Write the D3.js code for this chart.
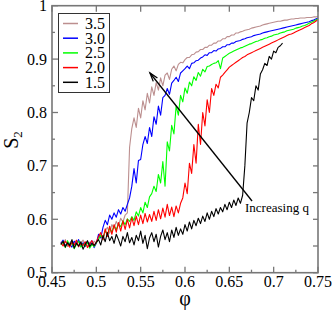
<!DOCTYPE html>
<html><head><meta charset="utf-8">
<script src="https://cdn.jsdelivr.net/npm/d3@7"></script>
</head><body style="margin:0">
<script>
// phi sample grid (step 0.0025 from 0.46)
const phi = d3.range(117).map(i => +(0.46 + 0.0025 * i).toFixed(4));
const seriesNames = ["3.5", "3.0", "2.5", "2.0", "1.5"];
const seriesColors = ["#bc8f8f", "#0000ff", "#00ff00", "#ff0000", "#000000"];
const s35 = [0.558,0.552,0.562,0.549,0.556,0.560,0.551,0.557,0.548,0.555,0.561,0.553,0.550,0.557,0.552,0.559,0.556,
 0.566,0.572,0.561,0.578,0.585,0.574,0.590,0.583,0.596,0.588,0.602,0.595,0.608,0.612,
 0.735,0.770,0.790,0.772,0.808,0.790,0.822,0.805,0.836,0.818,0.848,0.832,0.856,0.842,0.865,0.850,0.870,0.874,0.862,0.881,0.887,0.878,0.890,0.894,0.893,
 0.899,0.903,0.903,0.908,0.909,0.913,0.914,0.918,0.918,0.922,0.922,0.926,0.926,0.930,0.930,0.934,0.934,0.938,0.938,0.942,0.942,0.945,0.945,0.949,
 0.949,0.951,0.952,0.954,0.955,0.956,0.958,0.959,0.960,0.961,0.962,0.964,0.965,0.966,0.967,0.968,0.969,0.970,0.971,0.971,0.972,0.973,0.973,0.974,
 0.975,0.975,0.976,0.976,0.977,0.977,0.977,0.978,0.978,0.978,0.979,0.979,0.980];
const s30 = [0.555,0.561,0.550,0.557,0.553,0.548,0.559,0.554,0.562,0.551,0.556,0.549,0.558,0.553,0.560,0.547,0.555,
 0.572,0.565,0.585,0.598,0.590,0.608,0.600,0.612,0.604,0.618,0.610,0.622,0.615,0.628,0.640,
 0.662,0.695,0.668,0.710,0.712,0.740,0.755,0.742,0.772,0.755,0.792,0.778,0.812,0.795,0.828,0.832,0.845,0.834,0.855,0.860,0.866,0.858,0.874,0.878,
 0.882,0.887,0.882,0.892,0.893,0.897,0.898,0.902,0.904,0.908,0.907,0.912,0.912,0.916,0.915,0.919,0.920,0.923,0.923,0.927,0.927,0.930,0.930,0.933,
 0.934,0.935,0.937,0.938,0.940,0.941,0.942,0.944,0.945,0.946,0.947,0.949,0.950,0.951,0.952,0.953,0.954,0.955,0.956,0.957,0.958,0.959,0.960,0.961,
 0.962,0.963,0.964,0.965,0.966,0.967,0.968,0.969,0.970,0.972,0.973,0.975,0.977];
const s25 = [0.552,0.558,0.547,0.560,0.551,0.556,0.545,0.553,0.559,0.548,0.554,0.550,0.557,0.546,0.553,0.549,0.556,
 0.562,0.570,0.565,0.578,0.572,0.583,0.576,0.588,0.581,0.592,0.586,0.597,0.590,0.601,0.596,
 0.605,0.598,0.614,0.606,0.622,0.612,0.632,0.622,0.642,0.648,0.662,0.652,0.684,0.668,0.708,0.662,0.745,0.728,0.776,0.760,0.812,0.795,0.832,0.820,
 0.846,0.836,0.857,0.850,0.867,0.860,0.875,0.868,0.881,0.876,0.886,0.887,0.890,0.892,0.893,0.897,0.882,0.902,0.905,0.908,0.911,0.913,0.915,0.917,
 0.919,0.921,0.922,0.924,0.926,0.928,0.929,0.931,0.933,0.934,0.936,0.937,0.939,0.940,0.942,0.943,0.945,0.946,0.947,0.949,0.950,0.951,0.953,0.954,
 0.955,0.956,0.958,0.959,0.960,0.962,0.963,0.965,0.967,0.969,0.971,0.973,0.975];
const s20 = [0.556,0.550,0.559,0.553,0.548,0.557,0.552,0.561,0.549,0.555,0.551,0.558,0.547,0.554,0.560,0.551,0.557,
 0.568,0.575,0.562,0.582,0.568,0.587,0.572,0.590,0.576,0.594,0.578,0.597,0.581,0.600,0.584,0.603,0.588,0.606,0.590,0.608,0.592,0.611,0.595,
 0.609,0.596,0.615,0.598,0.618,0.601,0.621,0.604,0.628,0.607,0.623,0.605,
 0.625,0.612,0.630,0.640,0.668,0.648,0.705,0.686,0.740,0.705,0.778,0.740,0.800,0.775,0.824,0.800,0.845,0.832,0.853,0.846,0.866,0.870,0.875,0.880,
 0.885,0.888,0.891,0.894,0.897,0.900,0.903,0.905,0.908,0.910,0.912,0.914,0.916,0.918,0.920,0.922,0.924,0.926,0.928,0.930,0.932,0.934,0.936,0.938,
 0.940,0.942,0.944,0.946,0.947,0.949,0.951,0.953,0.955,0.957,0.959,0.961,0.963,0.966,0.968,0.971,0.974];
const s15 = [0.553,0.559,0.548,0.556,0.551,0.562,0.546,0.555,0.550,0.558,0.544,0.553,0.560,0.549,0.555,0.551,0.557,
 0.562,0.552,0.570,0.558,0.575,0.560,0.568,0.555,0.572,0.562,0.550,0.568,0.558,0.575,0.556,0.566,0.552,0.570,0.560,0.578,0.555,0.570,0.545,
 0.565,0.575,0.558,0.572,0.548,0.568,0.580,0.562,0.575,0.558,0.580,0.566,0.585,0.570,0.582,0.572,0.590,0.578,0.595,0.582,0.598,0.588,0.602,0.592,
 0.606,0.596,0.612,0.600,0.615,0.605,0.620,0.610,0.622,0.614,0.628,0.618,0.632,0.622,0.636,0.626,0.640,0.630,0.645,
 0.700,0.780,0.800,0.828,0.822,0.850,0.842,0.872,0.880,0.892,0.888,0.905,0.900,0.915,0.912,0.922,0.925,0.930];
const seriesValues = [s35, s30, s25, s20, s15];
const xTicks = [0.45,0.5,0.55,0.6,0.65,0.7,0.75];
const yTicks = [0.5,0.6,0.7,0.8,0.9,1];
const arrowFrom = [0.6756, 0.6343], arrowTo = [0.5605, 0.874];

const W = 332, H = 312, L = 52, R = 318, T = 5.7, B = 272.7;
const x = d3.scaleLinear().domain([0.45, 0.75]).range([L, R]);
const y = d3.scaleLinear().domain([0.5, 1]).range([B, T]);
const svg = d3.select("body").append("svg").attr("width", W).attr("height", H).style("display","block");
const axisColor = "#777";

const g = svg.append("g");
const line = d3.line().x(d => x(d[0])).y(d => y(d[1]));
seriesValues.forEach((vals, k) => {
  const pts = vals.map((v, i) => [phi[i], v]);
  g.append("path").attr("d", line(pts)).attr("fill","none")
   .attr("stroke", seriesColors[k]).attr("stroke-width", 1.1).attr("stroke-linejoin","round");
});

// axes (ticks inward)
const minorX = d3.range(0.475, 0.75, 0.05);
const minorY = d3.range(0.55, 1, 0.1);
const axG = svg.append("g").attr("stroke", axisColor).attr("stroke-width", 1.3);
xTicks.forEach(t => {
  axG.append("line").attr("x1",x(t)).attr("x2",x(t)).attr("y1",B).attr("y2",B-6);
  axG.append("line").attr("x1",x(t)).attr("x2",x(t)).attr("y1",T).attr("y2",T+6);
});
minorX.forEach(t => axG.append("line").attr("x1",x(t)).attr("x2",x(t)).attr("y1",B).attr("y2",B-3));
yTicks.forEach(t => axG.append("line").attr("x1",L).attr("x2",L+6).attr("y1",y(t)).attr("y2",y(t)));
minorY.forEach(t => axG.append("line").attr("x1",L).attr("x2",L+3).attr("y1",y(t)).attr("y2",y(t)));
yTicks.concat(minorY).forEach(t => axG.append("line").attr("x1",R).attr("x2",R-5).attr("y1",y(t)).attr("y2",y(t)));
svg.append("rect").attr("x",L).attr("y",T).attr("width",R-L).attr("height",B-T)
  .attr("fill","none").attr("stroke",axisColor).attr("stroke-width",1.6);

function label(parent, px, py, str, size, anchor) {
  return parent.append("text").attr("x", px).attr("y", py).attr("font-size", size)
    .attr("text-anchor", anchor || "start")
    .attr("font-family", "Liberation Serif")
    .style("font-family", '"Liberation Serif"').text(str);
}

// tick labels
xTicks.forEach(t => label(svg, x(t), 287, String(t), 16, "middle"));
yTicks.forEach(t => label(svg, 47, y(t) + 5.5, String(t), 16, "end"));

// axis titles
label(svg, x(0.6), 305, "φ", 20, "middle");
const yl = label(svg, 0, 0, "", 20, "middle").attr("transform","translate(18,140) rotate(-90)");
yl.append("tspan").text("S");
yl.append("tspan").attr("font-size",13).attr("dy",4).text("2");

// arrow
const ax1 = x(arrowFrom[0]), ay1 = y(arrowFrom[1]), ax2 = x(arrowTo[0]), ay2 = y(arrowTo[1]);
svg.append("line").attr("x1",ax1).attr("y1",ay1).attr("x2",ax2).attr("y2",ay2).attr("stroke","#000").attr("stroke-width",1.3);
const ang = Math.atan2(ay2 - ay1, ax2 - ax1), hl = 9, hw = 0.3;
const p1 = [ax2 - hl*Math.cos(ang - hw), ay2 - hl*Math.sin(ang - hw)];
const p2 = [ax2 - hl*Math.cos(ang + hw), ay2 - hl*Math.sin(ang + hw)];
svg.append("path").attr("d", `M${p1}L${ax2},${ay2}L${p2}`).attr("fill","none").attr("stroke","#000").attr("stroke-width",1.3);
label(svg, 245, 212, "Increasing q", 13);

// legend
const lg = svg.append("g");
lg.append("rect").attr("x",58.5).attr("y",13.5).attr("width",51).attr("height",79).attr("fill","#fff").attr("stroke","#333").attr("stroke-width",1);
seriesNames.forEach((n, k) => {
  const yy = 23.5 + k * 14.7;
  lg.append("line").attr("x1",63).attr("x2",78).attr("y1",yy).attr("y2",yy).attr("stroke",seriesColors[k]).attr("stroke-width",1.5);
  label(lg, 85, yy + 5.5, n, 16);
});
</script>
</body></html>
